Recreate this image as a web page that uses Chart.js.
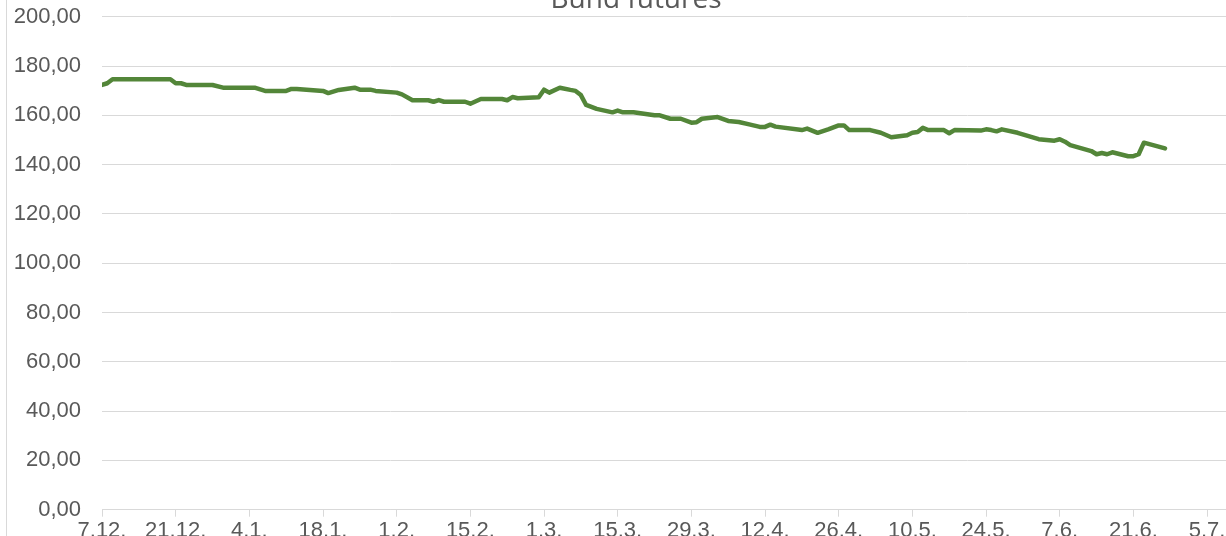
<!DOCTYPE html>
<html>
<head>
<meta charset="utf-8">
<title>Bund futures</title>
<script src="https://cdn.jsdelivr.net/npm/chart.js@4.4.1/dist/chart.umd.min.js"></script>
<style>
  html, body { margin: 0; padding: 0; background: #fff; overflow: hidden; }
  body { width: 1226px; height: 536px; position: relative; }
  #wrap { position: absolute; left: 0; top: -24px; }
</style>
</head>
<body>
<div id="wrap"><canvas id="bundChart" width="1256" height="584"></canvas></div>
<script>
"use strict";

// Chart data
const chartTitle = "Bund futures";
const startDate = "2020-12-07";

const dates = [
  "2020-12-07", "2020-12-08", "2020-12-09", "2020-12-20", "2020-12-21", "2020-12-22",
  "2020-12-23", "2020-12-28", "2020-12-30", "2021-01-05", "2021-01-07", "2021-01-11",
  "2021-01-12", "2021-01-13", "2021-01-18", "2021-01-19", "2021-01-21", "2021-01-24",
  "2021-01-25", "2021-01-27", "2021-01-28", "2021-02-01", "2021-02-02", "2021-02-04",
  "2021-02-07", "2021-02-08", "2021-02-09", "2021-02-10", "2021-02-14", "2021-02-15",
  "2021-02-17", "2021-02-21", "2021-02-22", "2021-02-23", "2021-02-24", "2021-02-28",
  "2021-03-01", "2021-03-02", "2021-03-04", "2021-03-06", "2021-03-07", "2021-03-08",
  "2021-03-09", "2021-03-11", "2021-03-14", "2021-03-15", "2021-03-16", "2021-03-18",
  "2021-03-20", "2021-03-22", "2021-03-23", "2021-03-25", "2021-03-27", "2021-03-29",
  "2021-03-30", "2021-03-31", "2021-04-03", "2021-04-05", "2021-04-07", "2021-04-09",
  "2021-04-11", "2021-04-12", "2021-04-13", "2021-04-14", "2021-04-19", "2021-04-20",
  "2021-04-22", "2021-04-24", "2021-04-26", "2021-04-27", "2021-04-28", "2021-05-02",
  "2021-05-04", "2021-05-06", "2021-05-09", "2021-05-10", "2021-05-11", "2021-05-12",
  "2021-05-13", "2021-05-16", "2021-05-17", "2021-05-18", "2021-05-23", "2021-05-24",
  "2021-05-25", "2021-05-26", "2021-05-27", "2021-05-30", "2021-06-03", "2021-06-06",
  "2021-06-07", "2021-06-08", "2021-06-09", "2021-06-13", "2021-06-14", "2021-06-15",
  "2021-06-16", "2021-06-17", "2021-06-20", "2021-06-21", "2021-06-22", "2021-06-23",
  "2021-06-27"
];

const prices = [
  172.3, 173.0, 174.6, 174.6, 173.0, 173.0,
  172.3, 172.3, 171.2, 171.2, 169.9, 169.9,
  170.7, 170.7, 169.9, 169.0, 170.3, 171.2,
  170.4, 170.4, 169.9, 169.2, 168.5, 166.1,
  166.1, 165.5, 166.2, 165.5, 165.5, 164.7,
  166.6, 166.6, 166.1, 167.4, 166.9, 167.3,
  170.4, 169.2, 171.2, 170.3, 169.9, 168.2,
  164.2, 162.6, 161.2, 161.9, 161.2, 161.2,
  160.6, 160.0, 160.0, 158.6, 158.6, 157.0,
  157.2, 158.6, 159.3, 157.7, 157.3, 156.3,
  155.3, 155.3, 156.2, 155.4, 154.0, 154.6,
  152.9, 154.3, 155.9, 155.9, 154.0, 154.0,
  152.9, 151.1, 151.9, 152.9, 153.2, 154.9,
  154.0, 154.0, 152.7, 154.0, 153.8, 154.3,
  154.0, 153.5, 154.3, 152.9, 150.3, 149.7,
  150.3, 149.3, 147.9, 145.5, 144.2, 144.7,
  144.2, 145.0, 143.4, 143.4, 144.2, 148.9,
  146.6
];

const tickLabels = [
  "7.12.", "21.12.", "4.1.", "18.1.", "1.2.", "15.2.", "1.3.", "15.3.",
  "29.3.", "12.4.", "26.4.", "10.5.", "24.5.", "7.6.", "21.6.", "5.7."
];
const tickStepDays = 14;

const yTicks = { min: 0, max: 200, step: 20 };

// days since the first date
function dayOffset(dateStr) {
  const [y, m, d] = dateStr.split("-").map(Number);
  const [y0, m0, d0] = startDate.split("-").map(Number);
  return (Date.UTC(y, m - 1, d) - Date.UTC(y0, m0 - 1, d0)) / 86400000;
}

const points = dates.map((d, i) => ({ x: dayOffset(d), y: prices[i] }));

const textColor = "#595959";
const gridColor = "#d9d9d9";

// Left frame line and the (partly cut) title, like the Excel original
const frameAndTitle = {
  id: "frameAndTitle",
  afterDraw(chart) {
    const ctx = chart.ctx;
    ctx.save();
    ctx.strokeStyle = gridColor;
    ctx.lineWidth = 1;
    ctx.beginPath();
    ctx.moveTo(6.5, 0);
    ctx.lineTo(6.5, chart.height);
    ctx.stroke();

    ctx.fillStyle = textColor;
    ctx.font = "28px 'Open Sans'";
    ctx.textAlign = "center";
    ctx.textBaseline = "alphabetic";
    ctx.fillText(chartTitle, 636, 32);
    ctx.restore();
  }
};

const canvas = document.getElementById("bundChart");

new Chart(canvas, {
  type: "line",
  data: {
    datasets: [{
      label: chartTitle,
      data: points,
      borderColor: "#538639",
      borderWidth: 4.5,
      borderJoinStyle: "round",
      borderCapStyle: "round",
      pointRadius: 0,
      tension: 0,
      fill: false
    }]
  },
  options: {
    responsive: false,
    animation: false,
    layout: { padding: { top: 40.7, left: 0, right: 0, bottom: 0 } },
    plugins: {
      legend: { display: false },
      title: { display: false },
      tooltip: { enabled: false }
    },
    scales: {
      x: {
        type: "linear",
        min: 0,
        max: 219.3,
        afterBuildTicks: scale => {
          scale.ticks = tickLabels.map((_, i) => ({ value: i * tickStepDays }));
        },
        afterFit: scale => { scale.height = 50.3; },
        ticks: {
          autoSkip: false,
          maxRotation: 0,
          padding: 1,
          color: textColor,
          font: { family: "'Liberation Sans', Arial, sans-serif", size: 22 },
          callback: (value, index) => tickLabels[index]
        },
        grid: {
          drawOnChartArea: false,
          drawTicks: true,
          tickLength: 7,
          color: gridColor
        },
        border: { display: true, color: gridColor }
      },
      y: {
        min: yTicks.min,
        max: yTicks.max,
        afterFit: scale => { scale.width = 102; },
        ticks: {
          stepSize: yTicks.step,
          padding: 21,
          color: textColor,
          font: { family: "'Liberation Sans', Arial, sans-serif", size: 22 },
          callback: value => value.toFixed(2).replace(".", ",")
        },
        grid: { color: gridColor, drawTicks: false },
        border: { display: false }
      }
    }
  },
  plugins: [frameAndTitle]
});
</script>
</body>
</html>
